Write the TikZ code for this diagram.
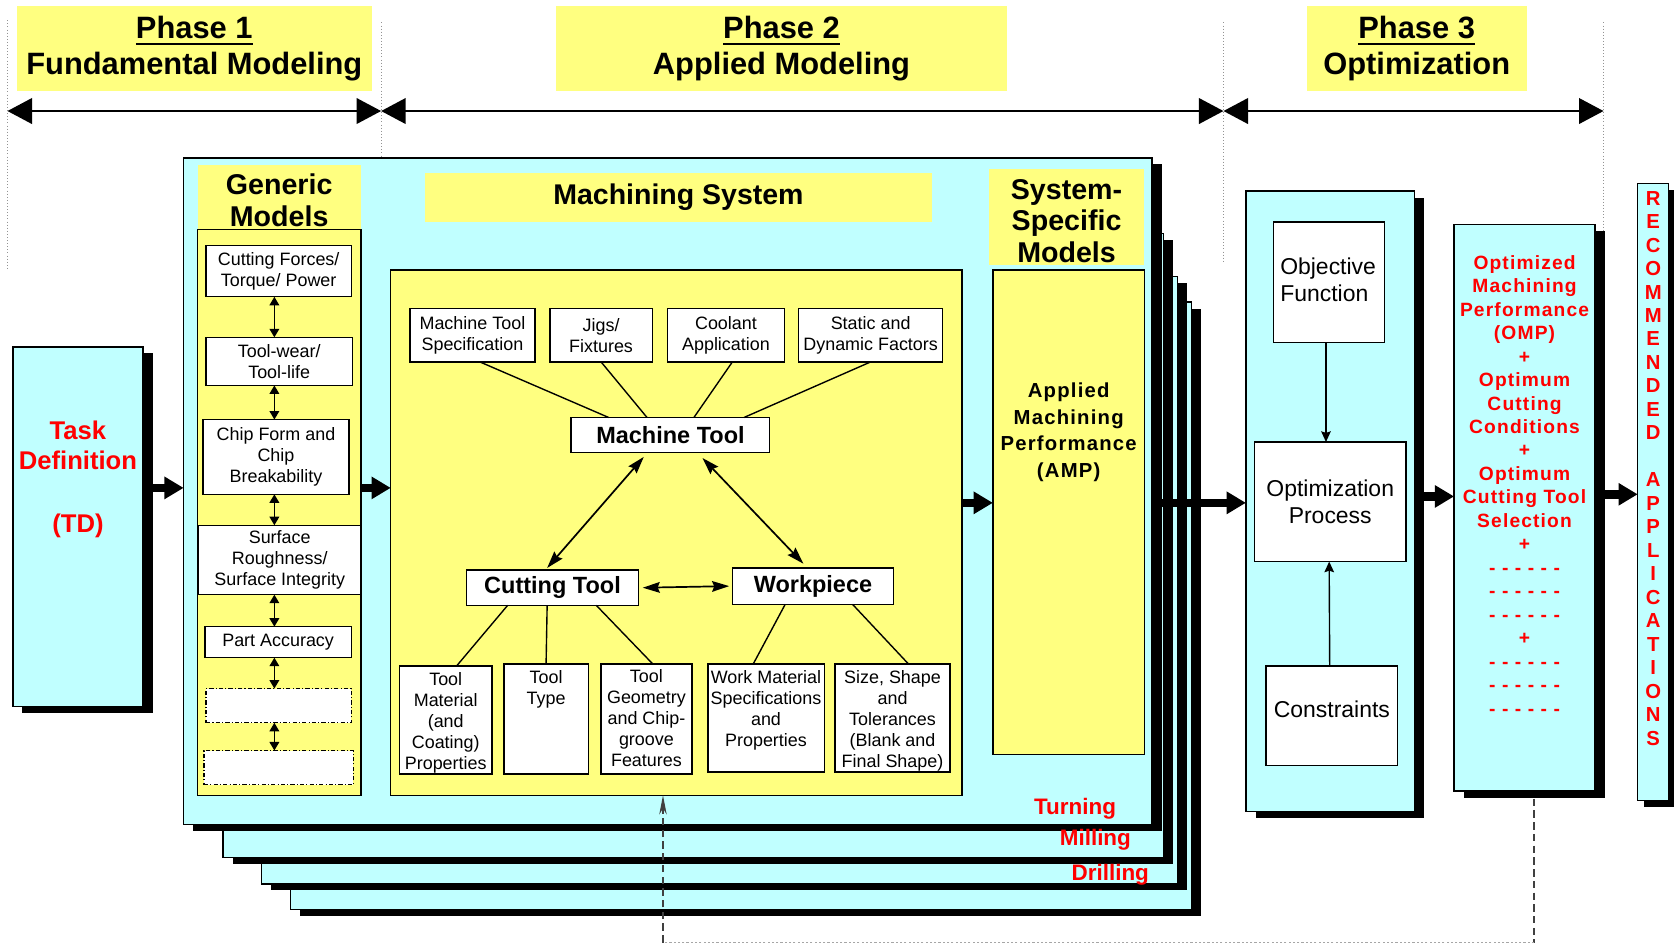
\documentclass[tikz,border=0pt]{standalone}
\usepackage{fontspec}
\setmainfont{Liberation Sans}
\newfontfamily\widesans[LetterSpace=6]{Liberation Sans}
\usetikzlibrary{arrows.meta,shadows,calc}

\definecolor{panelcyan}{RGB}{192,255,255}
\definecolor{paneyellow}{RGB}{255,255,128}
\definecolor{labelred}{RGB}{255,0,0}

% underlined phase number with a heavier rule
\newsavebox\phasebox
\newcommand\phaseul[1]{\sbox\phasebox{#1}\rlap{\rule[-6pt]{\wd\phasebox}{2.2pt}}\usebox\phasebox}

% font sizes (picture units are points)
\newcommand\fsPhase{\fontsize{28.9}{33}\selectfont\bfseries}
\newcommand\fsHead{\fontsize{26.8}{30.5}\selectfont\bfseries}
\newcommand\fsSys{\fontsize{26.8}{29.5}\selectfont\bfseries}
\newcommand\fsMS{\fontsize{26.7}{29}\selectfont\bfseries}
\newcommand\fsBox{\fontsize{16.8}{19.6}\selectfont}
\newcommand\fsKey{\fontsize{22}{25}\selectfont\bfseries}
\newcommand\fsOpt{\fontsize{21.5}{25}\selectfont}
\newcommand\fsTD{\fontsize{24}{29}\selectfont\bfseries}
\newcommand\fsAMP{\widesans\fontsize{19}{25}\selectfont\bfseries}
\newcommand\fsOMP{\widesans\fontsize{18}{22}\selectfont\bfseries}
\newcommand\fsRec{\fontsize{19}{22}\selectfont\bfseries}
\newcommand\fsSheet{\fontsize{21}{24}\selectfont\bfseries}

\tikzset{
  every node/.style={inner sep=0pt,outer sep=0pt},
  % a box given by its left, top, right and bottom edges
  rect/.style args={#1,#2,#3,#4}{at={({(#1+#3)/2},{(#2+#4)/2})},
    minimum width={#3-#1},minimum height={#4-#2}},
  frame/.style={draw=black,line width=1.3pt},
  dropblack/.style={drop shadow={shadow xshift=#1,shadow yshift=-6pt,fill=black,opacity=1}},
  dropblack/.default=9pt,
  layer/.style={frame,fill=panelcyan,dropblack},
  phase/.style={fill=paneyellow,align=center,font=\fsPhase},
  yhead/.style={fill=paneyellow,align=center},
  ybox/.style={frame,fill=paneyellow},
  sbox/.style={frame,fill=white,align=center,font=\fsBox},
  emptybox/.style={draw=black,line width=1.3pt,fill=white,
    dash pattern=on 4pt off 2pt on 1pt off 2pt},
  toptext/.style={anchor=north,align=center,font=\fsBox},
  redtext/.style={text=labelred,align=center},
  phaseline/.style={draw=gray!85,line width=0.9pt,dotted},
  phasearrow/.style={line width=1.8pt,
    arrows={Triangle[length=23pt,width=24pt]-Triangle[length=23pt,width=24pt]}},
  blockarrow/.style={line width=8pt,-{Triangle[length=18pt,width=20pt]}},
  dbl/.style={line width=1.5pt,arrows={Triangle[length=8pt,width=9pt]-Triangle[length=8pt,width=9pt]}},
  link/.style={line width=1.3pt},
  mtarrow/.style={line width=1.6pt,
    arrows={Stealth[length=16pt,width=10pt,inset=2pt]-Stealth[length=16pt,width=10pt,inset=2pt]}},
  thinarrow/.style={line width=1.3pt,-{Stealth[length=10pt,width=9pt,inset=1.5pt]}},
  feedback/.style={draw=black!75,line width=1.3pt,dash pattern=on 7pt off 4pt},
  feedbackbase/.style={draw=gray!70,line width=1pt,dash pattern=on 2pt off 2pt},
}

\begin{document}
\begin{tikzpicture}[x=1pt,y=-1pt]
\fill[white] (0,0) rectangle (1568,885);
\useasboundingbox (0,0) rectangle (1568,885);

% ---------- phase headers ----------
\node[phase,rect={16,6,348,85}] (ph1) {\phaseul{Phase 1}\\Fundamental Modeling};
\node[phase,rect={521,6,943,85}] (ph2) {\phaseul{Phase 2}\\Applied Modeling};
\node[phase,rect={1224,6,1430,85}] (ph3) {\phaseul{Phase 3}\\Optimization};

% phase limits
\draw[phaseline] (7,19) -- (7,253);
\draw[phaseline] (357,21) -- (357,250);
\draw[phaseline] (1146,21) -- (1146,245);
\draw[phaseline] (1502,21) -- (1502,216);
\coordinate (v0) at (7,104);
\coordinate (v1) at (357,104);
\coordinate (v2) at (1146,104);
\coordinate (v3) at (1502,104);
\draw[phasearrow] (v0) -- (v1);
\draw[phasearrow] (v1) -- (v2);
\draw[phasearrow] (v2) -- (v3);

% ---------- stacked process sheets ----------
\node[layer,rect={272,283,1116,852}] (layerD) {};
\node[layer,rect={245,259,1103,828}] (layerC) {};
\node[layer,rect={209,219,1090,803}] (layerB) {};
\node[layer,rect={172,148,1079,772}] (layerA) {};
\node[redtext,font=\fsSheet] (turning) at (1007,758) {Turning};
\node[redtext,font=\fsSheet] (milling) at (1026,787) {Milling};
\node[redtext,font=\fsSheet] (drilling) at (1040,819) {Drilling};

% ---------- task definition ----------
\node[layer,rect={12,325,134,662}] (td) {};
\node[redtext,font=\fsTD] (tdtext) at (73,449) {Task\\Definition\\[30pt](TD)};

% ---------- generic models ----------
\node[yhead,rect={185,155,338,215}] (gmh) {};
\node[align=center,font=\fsHead] at ([yshift=-2.5pt]gmh.center) {Generic\\Models};
\node[ybox,rect={185,215,338,745}] (gm) {};
\node[sbox,rect={193,230,329,278}] (cf) {Cutting Forces/\\Torque/ Power};
\node[sbox,rect={193,316,330,361}] (tw) {Tool-wear/\\Tool-life};
\node[sbox,rect={190,393,327,463}] (cfb) {Chip Form and\\Chip\\Breakability};
\node[sbox,rect={186,492,338,557}] (sr) {Surface\\Roughness/\\Surface Integrity};
\node[sbox,rect={192,587,329,616}] (pa) {Part Accuracy};
\node[emptybox,rect={193,645,329,677}] (e1) {};
\node[emptybox,rect={191,703,331,735}] (e2) {};
\coordinate (gx) at (257,0);
\draw[dbl] (cf.south -| gx) -- (tw.north -| gx);
\draw[dbl] (tw.south -| gx) -- (cfb.north -| gx);
\draw[dbl] (cfb.south -| gx) -- (sr.north -| gx);
\draw[dbl] (sr.south -| gx) -- (pa.north -| gx);
\draw[dbl] (pa.south -| gx) -- (e1.north -| gx);
\draw[dbl] (e1.south -| gx) -- (e2.north -| gx);

% ---------- machining system ----------
\node[yhead,font=\fsMS,rect={398,162,873,208}] (msh) {Machining System};
\node[ybox,rect={366,253,901,745}] (mach) {};
\node[sbox,rect={384,289,501,339}] (mts) {Machine Tool\\Specification};
\node[sbox,rect={515,289,611,339}] (jig) {Jigs/\\Fixtures};
\node[sbox,rect={625,289,735,339}] (cool) {Coolant\\Application};
\node[sbox,rect={748,289,883,339}] (sdf) {Static and\\Dynamic Factors};
\node[sbox,font=\fsKey,rect={535,391,721,424}] (mt) {Machine Tool};
\node[sbox,font=\fsKey,rect={437,534,598,567}] (ct) {Cutting Tool};
\node[sbox,font=\fsKey,rect={686,532,837,566}] (wp) {Workpiece};

\node[sbox,rect={374,624,461,725}] (tm) {};
\node[sbox,rect={472,622,551,725}] (ty) {};
\node[sbox,rect={563,622,648,725}] (tg) {};
\node[sbox,rect={663,622,772,723}] (wm) {};
\node[sbox,rect={782,622,890,723}] (ss) {};
\node[toptext] at ([yshift=-6pt]tm.north) {Tool\\Material\\(and\\Coating)\\Properties};
\node[toptext] at ([yshift=-6pt]ty.north) {Tool\\Type};
\node[toptext] at ([yshift=-5pt]tg.north) {Tool\\Geometry\\and Chip-\\groove\\Features};
\node[toptext] at ([yshift=-6pt]wm.north) {Work Material\\Specifications\\and\\Properties};
\node[toptext] at ([yshift=-6pt]ss.north) {Size, Shape\\and\\Tolerances\\(Blank and\\Final Shape)};

\draw[link] ([xshift=7pt]mts.south) -- ([xshift=-58pt]mt.north);
\draw[link] (jig.south) -- ([xshift=-22pt]mt.north);
\draw[link] ([xshift=6pt]cool.south) -- ([xshift=22pt]mt.north);
\draw[link] (sdf.south) -- ([xshift=69pt]mt.north);

\draw[mtarrow] ([xshift=-5pt,yshift=2pt]ct.north) -- ([xshift=-25pt,yshift=-4pt]mt.south);
\draw[mtarrow] ([xshift=30pt,yshift=-5pt]mt.south) -- ([xshift=-9pt,yshift=4pt]wp.north);
\draw[mtarrow] ([xshift=4pt]ct.east) -- ([xshift=-3pt]wp.west);

\draw[link] ([xshift=-42pt]ct.south) -- ([xshift=10pt]tm.north);
\draw[link] ([xshift=-5pt]ct.south) -- (ty.north);
\draw[link] ([xshift=41pt]ct.south) -- ([xshift=6pt]tg.north);
\draw[link] ([xshift=-26pt]wp.south) -- ([xshift=-12pt]wm.north);
\draw[link] ([xshift=37pt]wp.south) -- ([xshift=15pt]ss.north);

% ---------- system-specific models ----------
\node[yhead,rect={926,158,1072,248}] (ssh) {};
\node[align=center,font=\fsSys] at ([yshift=-4pt]ssh.center) {System-\\Specific\\Models};
\node[ybox,rect={930,253,1072,707}] (amp) {};
\node[align=center,font=\fsAMP] (amptext) at (1001,405) {Applied\\Machining\\Performance\\(AMP)};

% ---------- optimization ----------
\node[layer,rect={1167,179,1325,760}] (opt) {};
\node[sbox,font=\fsOpt,align=left,rect={1193,208,1297,321}] (of) {};
\node[align=left,font=\fsOpt] at ([xshift=-1pt,yshift=2.5pt]of.center) {Objective\\Function};
\node[sbox,font=\fsOpt,rect={1175,414,1317,526}] (op) {Optimization\\Process};
\node[sbox,rect={1186,624,1309,717}] (cons) {};
\node[font=\fsOpt] at ([yshift=6pt]cons.center) {Constraints};
\draw[thinarrow] ([xshift=-3pt]of.south) -- ([xshift=-4pt]op.north);
\draw[thinarrow] ([xshift=-2pt]cons.north) -- ([xshift=-1pt]op.south);

\node[layer,rect={1362,210,1494,741}] (omp) {};
\node[redtext,font=\fsOMP,anchor=north] (omptext) at (1428,239) {Optimized\\Machining\\Performance\\(OMP)\\+\\Optimum\\Cutting\\Conditions\\+\\Optimum\\Cutting Tool\\Selection\\+\\- - - - - -\\- - - - - -\\- - - - - -\\+\\- - - - - -\\- - - - - -\\- - - - - -};

\node[layer,dropblack=6pt,rect={1534,172,1563,750}] (rec) {};
\node[redtext,font=\fsRec,anchor=north] (rectext) at (1548.5,179) {R\\E\\C\\O\\M\\M\\E\\N\\D\\E\\D\\[22pt]A\\P\\P\\L\\I\\C\\A\\T\\I\\O\\N\\S};

% ---------- main flow ----------
\coordinate (yA) at (0,457);
\coordinate (yB) at (0,471);
\coordinate (yC) at (0,465);
\coordinate (yD) at (0,463);
\draw[blockarrow] ($(td.east |- yA)+(9,0)$) -- (layerA.west |- yA);
\draw[blockarrow] (gm.east |- yA) -- (mach.west |- yA);
\draw[blockarrow] (mach.east |- yB) -- (amp.west |- yB);
\draw[blockarrow] (layerA.east |- yB) -- (opt.west |- yB);
\draw[blockarrow] ($(opt.east |- yC)+(9,0)$) -- (omp.west |- yC);
\draw[blockarrow] ($(omp.east |- yD)+(8,0)$) -- (rec.west |- yD);

% ---------- feedback ----------
\coordinate (fbL) at (621,883);
\coordinate (fbR) at (1437,883);
\draw[feedback] ($(omp.south)+(9,7)$) -- (fbR);
\draw[feedbackbase] (fbR) -- (fbL);
\draw[feedback,-{Stealth[length=18pt,width=7pt]}] (fbL) -- (mach.south -| fbL);
\end{tikzpicture}
\end{document}
